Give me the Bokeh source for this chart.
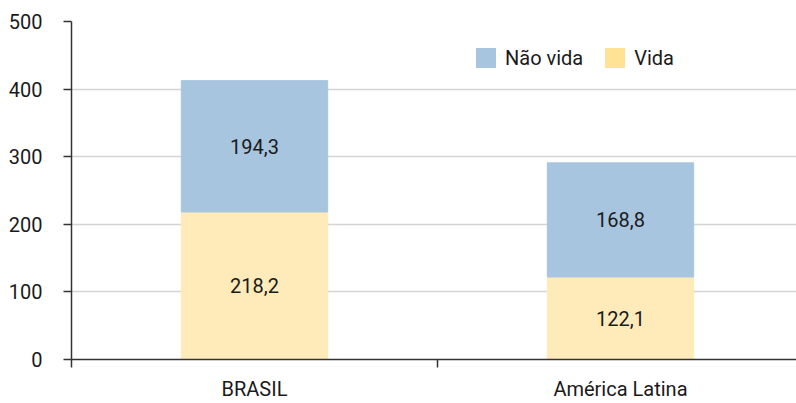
from bokeh.plotting import figure
from bokeh.models import (ColumnDataSource, FixedTicker, Legend, LegendItem,
                          LabelSet, Range1d, LinearAxis)
from bokeh.core.properties import value
from bokeh.embed import file_html
from bokeh.resources import INLINE

categories = ["BRASIL", "América Latina"]
vida = [218.2, 122.1]
nao_vida = [194.3, 168.8]
vida_labels = ["218,2", "122,1"]
nao_vida_labels = ["194,3", "168,8"]
y_ticks = [0, 100, 200, 300, 400, 500]

FONT = "Roboto"
TXT = "#1a1a1a"
BLUE = "#A8C5E0"
YELLOW_BAR = "#FFEBB9"
YELLOW_LEG = "#FFE293"

xs = [i + 0.5 for i in range(len(categories))]
separators = list(range(len(categories) + 1))
source = ColumnDataSource(dict(
    x=xs,
    vida=vida,
    nao_vida=nao_vida,
    zero=[0 for _ in xs],
    vida_mid=[v / 2 for v in vida],
    nao_mid=[v + n / 2 for v, n in zip(vida, nao_vida)],
    vida_lab=vida_labels,
    nao_lab=nao_vida_labels,
))

p = figure(width=796, height=403, output_backend="svg", toolbar_location=None,
           x_range=Range1d(0, 1.981), y_range=Range1d(0, 500),
           min_border_left=71, min_border_right=0, min_border_top=21, min_border_bottom=0,
           x_axis_type=None)
p.outline_line_color = None
p.xgrid.visible = False
p.ygrid.grid_line_color = "#d4d4d4"
p.ygrid.grid_line_width = 1.5
p.ygrid.ticker = FixedTicker(ticks=y_ticks)

p.vbar_stack(["vida", "nao_vida"], x="x", width=0.4, color=[YELLOW_BAR, BLUE], source=source)

for col, lab in (("vida_mid", "vida_lab"), ("nao_mid", "nao_lab")):
    p.add_layout(LabelSet(x="x", y=col, text=lab, source=source, text_align="center",
                          text_baseline="middle", text_font=value(FONT),
                          text_font_size="20px", text_color=TXT))

# y axis
ya = p.yaxis[0]
ya.ticker = FixedTicker(ticks=y_ticks)
ya.axis_line_color = "#333333"
ya.axis_line_width = 1.5
ya.major_tick_line_color = "#333333"
ya.major_tick_line_width = 1.5
ya.major_tick_in = 0
ya.major_tick_out = 8
ya.minor_tick_line_color = None
ya.major_label_standoff = 21
ya.major_label_text_font = FONT
ya.major_label_text_font_size = "20px"
ya.major_label_text_color = TXT

# x axis: labels at category centres, separator ticks as minor ticks
xa = LinearAxis(ticker=FixedTicker(ticks=xs, minor_ticks=separators),
                major_label_overrides={x: c for x, c in zip(xs, categories)})
xa.axis_line_color = "#333333"
xa.axis_line_width = 1.5
xa.major_tick_line_color = None
xa.major_tick_in = 0
xa.major_tick_out = 0
xa.minor_tick_line_color = "#333333"
xa.minor_tick_line_width = 1.5
xa.minor_tick_in = 0
xa.minor_tick_out = 8
xa.major_label_standoff = 9
xa.major_label_text_font = FONT
xa.major_label_text_font_size = "20px"
xa.major_label_text_color = TXT
p.add_layout(xa, "below")

# legend (zero-height swatch renderers carrying the legend colours)
r_nv = p.vbar(x="x", top="zero", width=0.4, fill_color=BLUE, line_color=None, source=source)
r_v = p.vbar(x="x", top="zero", width=0.4, fill_color=YELLOW_LEG, line_color=None, source=source)
legend = Legend(items=[LegendItem(label="Não vida", renderers=[r_nv]),
                       LegendItem(label="Vida", renderers=[r_v])],
                orientation="horizontal", location=(402, 289),
                glyph_width=25, glyph_height=25, label_standoff=7, spacing=19,
                padding=0, margin=0, border_line_color=None, background_fill_alpha=0,
                label_text_font=FONT, label_text_font_size="20px", label_text_color=TXT)
p.add_layout(legend)

open("out.html", "w").write(file_html(p, INLINE))
